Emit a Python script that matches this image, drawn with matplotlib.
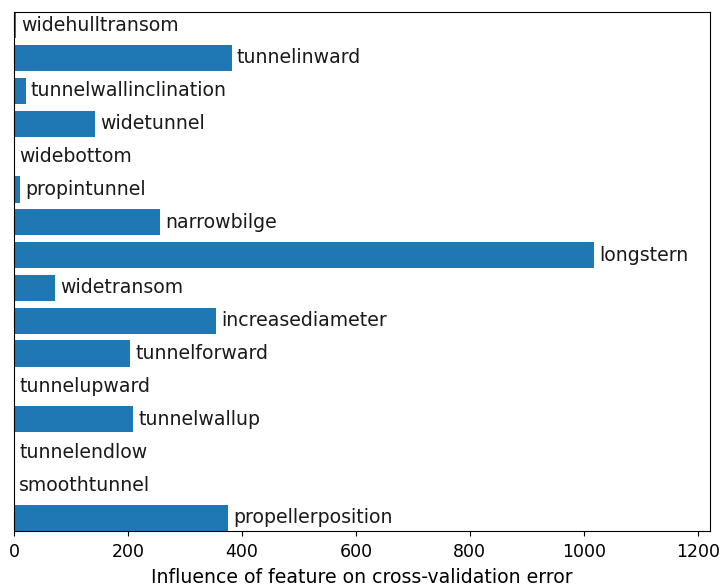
import matplotlib
matplotlib.use("Agg")
import matplotlib.pyplot as plt

features = ["widehulltransom", "tunnelinward", "tunnelwallinclination", "widetunnel",
            "widebottom", "propintunnel", "narrowbilge", "longstern", "widetransom",
            "increasediameter", "tunnelforward", "tunnelupward", "tunnelwallup",
            "tunnelendlow", "smoothtunnel", "propellerposition"]
influence = [3, 382, 20.5, 142, 0, 10.5, 256, 1018, 72.5, 354, 203.5, 0, 209, 0, 0, 376]
xlabel = "Influence of feature on cross-validation error"

fig = plt.figure(figsize=(7.2, 5.88), dpi=100)
ax = fig.add_axes([14/720, 1-531/588, (710-14)/720, (531-12)/588])
pos = list(range(len(features)))
ax.barh(pos, influence, height=0.8, color="#1f77b4")
for p, v, name in zip(pos, influence, features):
    ax.text(v + 9, p, name, va="center", ha="left", fontsize=13.6, color="#1a1a1a")
ax.set_ylim(len(features) - 0.6, -0.4)
ax.set_xlim(0, max(influence) * 1.2)
ax.set_yticks([])
ax.tick_params(axis="x", labelsize=12.5, pad=5)
ax.set_xlabel(xlabel, fontsize=13.6, labelpad=5.5)
fig.savefig("out.png", dpi=100)
